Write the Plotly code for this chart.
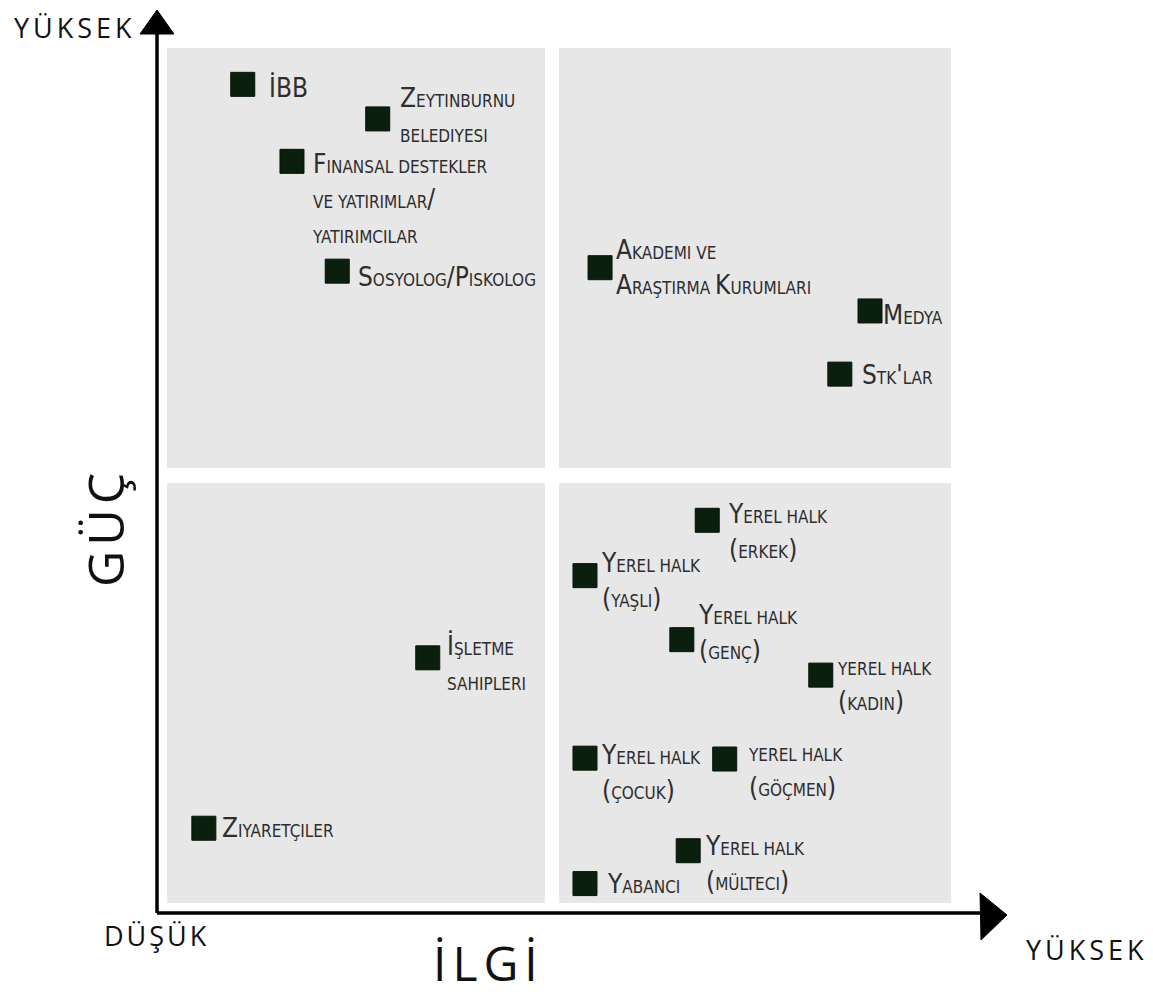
import plotly.graph_objects as go

# ---------------- data ----------------
stakeholders = [
    "İBB",
    "Zeytinburnu\nbelediyesi",
    "Finansal destekler\nve yatırımlar/\nyatırımcılar",
    "Sosyolog/Piskolog",
    "Akademi ve\nAraştırma Kurumları",
    "Medya",
    "Stk'lar",
    "Yerel halk\n(erkek)",
    "Yerel halk\n(yaşlı)",
    "Yerel halk\n(genç)",
    "yerel halk\n(kadın)",
    "Yerel halk\n(çocuk)",
    "yerel halk\n(göçmen)",
    "Yerel halk\n(mülteci)",
    "Yabancı",
    "İşletme\nsahipleri",
    "Ziyaretçiler",
]
interest = [1.08, 2.78, 1.70, 2.27, 5.58, 8.98, 8.60, 6.93, 5.39, 6.61, 8.36, 5.39, 7.15, 6.69, 5.39, 3.41, 0.59]
power = [9.58, 9.18, 8.69, 7.42, 7.46, 6.96, 6.23, 4.54, 3.90, 3.16, 2.75, 1.79, 1.78, 0.72, 0.34, 2.95, 0.98]

axis_y_title = "GÜÇ"
axis_x_title = "İLGİ"
low_label = "DÜŞÜK"
high_label = "YÜKSEK"

# ---------------- styling / layout helpers ----------------
PAGE_W, PAGE_H = 1153, 997
BODY_MARGIN = 8                  # default page margin around the plot div
W, H = PAGE_W - BODY_MARGIN, PAGE_H - BODY_MARGIN
X0_PX, X_UNIT = 157.0, 79.4      # interest 0 at page px 157, 1 unit = 79.4 px
Y0_PX, Y_UNIT = 913.0, 86.5      # power 0 at page px 913, 1 unit = 86.5 px


def px2x(px):
    return (px - X0_PX) / X_UNIT


def py2y(py):
    return (Y0_PX - py) / Y_UNIT


# label offsets (pixels) : (dx, yshift)
label_offsets = [
    (26, -3), (22, 4), (20, -37), (21, -6), (16, 0), (13, -4), (22, -1),
    (21, -11), (16, -5), (16, 7), (16, -12), (16, -14), (23, -14), (17, -13),
    (22, 0), (19, -4), (18, 0),
]

BIG, SMALL = 26, 17
LABEL_FONT = "Liberation Sans Narrow, DejaVu Sans Condensed, Arial Narrow, sans-serif"
WORD_FONT = "Open Sans, sans-serif"
MARK_COLOR = "#0b1f0e"
QUAD_COLOR = "#e7e7e7"


def small_caps(text):
    lines = []
    for line in text.split("\n"):
        out = []
        cur_size, buf = None, ""
        for ch in line:
            size = SMALL if ch.islower() else BIG
            c = ch.upper() if ch.islower() else ch
            if ch == " ":
                size = cur_size or SMALL
            if size != cur_size and buf:
                out.append(f'<span style="font-size:{cur_size}px">{buf}</span>')
                buf = ""
            cur_size = size
            buf += c
        if buf:
            out.append(f'<span style="font-size:{cur_size}px">{buf}</span>')
        lines.append("".join(out))
    return "<br>".join(lines)


fig = go.Figure()

# quadrants
quads = [
    (167, 545, 48, 468),
    (559, 951, 48, 468),
    (167, 545, 483, 903),
    (559, 951, 483, 903),
]
for x0, x1, y0, y1 in quads:
    fig.add_shape(type="rect", x0=px2x(x0), x1=px2x(x1), y0=py2y(y1), y1=py2y(y0),
                  fillcolor=QUAD_COLOR, line=dict(width=0), layer="below")

# axis lines
fig.add_shape(type="line", x0=0, y0=0, x1=0, y1=py2y(32), line=dict(color="black", width=3.5))
fig.add_shape(type="line", x0=0, y0=0, x1=px2x(982), y1=0, line=dict(color="black", width=3.5))
# arrow heads
fig.add_shape(type="path",
              path=f"M {px2x(140)} {py2y(34)} L {px2x(157)} {py2y(10)} L {px2x(174)} {py2y(34)} Z",
              fillcolor="black", line=dict(color="black", width=1))
fig.add_shape(type="path",
              path=f"M {px2x(980)} {py2y(893)} L {px2x(1007)} {py2y(915)} L {px2x(981)} {py2y(940)} Z",
              fillcolor="black", line=dict(color="black", width=1))

# markers
fig.add_trace(go.Scatter(
    x=interest, y=power, mode="markers",
    marker=dict(symbol="square", size=24, color=MARK_COLOR, line=dict(color="#06140a", width=1)),
    hovertext=[s.replace("\n", " ") for s in stakeholders], hoverinfo="text",
    cliponaxis=False, showlegend=False,
))

annotations = []
for name, xi, yi, (dx, dy) in zip(stakeholders, interest, power, label_offsets):
    annotations.append(dict(
        x=xi, y=yi, xref="x", yref="y", text=small_caps(name), showarrow=False,
        xanchor="left", yanchor="middle", align="left", xshift=dx - 2, yshift=dy,
        font=dict(family=LABEL_FONT, size=27, color="#2e2e2e"),
    ))


def spaced(txt, sp):
    return f'<span style="letter-spacing:{sp}px">{txt}</span>'


annotations += [
    dict(x=px2x(12), y=py2y(27), text=spaced(high_label, 4), xanchor="left", yanchor="middle",
         showarrow=False, font=dict(family=WORD_FONT, size=27, color="#111")),
    dict(x=px2x(102), y=py2y(935), text=spaced(low_label, 3), xanchor="left", yanchor="middle",
         showarrow=False, font=dict(family=WORD_FONT, size=27, color="#111")),
    dict(x=px2x(1024), y=py2y(949), text=spaced(high_label, 4), xanchor="left", yanchor="middle",
         showarrow=False, font=dict(family=WORD_FONT, size=27, color="#111")),
    dict(x=px2x(431), y=py2y(962), text=spaced(axis_x_title, 6), xanchor="left", yanchor="middle",
         showarrow=False, font=dict(family=WORD_FONT, size=48, color="#111")),
    dict(x=px2x(105), y=py2y(528), text=spaced(axis_y_title, 5), xanchor="center", yanchor="middle",
         textangle=-90, showarrow=False, font=dict(family=WORD_FONT, size=50, color="#111")),
]

fig.update_layout(
    width=W, height=H,
    margin=dict(l=0, r=0, t=0, b=0),
    paper_bgcolor="white", plot_bgcolor="white",
    xaxis=dict(range=[px2x(BODY_MARGIN), px2x(PAGE_W)], visible=False, fixedrange=True),
    yaxis=dict(range=[py2y(PAGE_H), py2y(BODY_MARGIN)], visible=False, fixedrange=True),
    annotations=annotations,
    showlegend=False,
)

fig.write_html("out.html")
